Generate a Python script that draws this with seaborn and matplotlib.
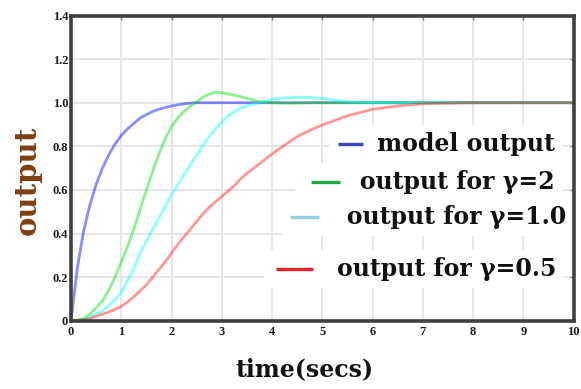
import matplotlib
matplotlib.use("Agg")
import matplotlib.pyplot as plt
import seaborn as sns
import pandas as pd

# step responses sampled over time (seconds)
time = [0, 0.125, 0.25, 0.375, 0.5, 0.625, 0.75, 0.875, 1.0, 1.125, 1.25, 1.375, 1.5,
        1.625, 1.75, 1.875, 2.0, 2.125, 2.25, 2.375, 2.5, 2.625, 2.75, 2.875, 3.0,
        3.125, 3.25, 3.375, 3.5, 3.75, 4.0, 4.25, 4.5, 4.75, 5.0, 5.5, 6.0, 6.5,
        7.0, 7.5, 8.0, 9.0, 10.0]
model_out = [0, 0.24, 0.41, 0.53, 0.625, 0.70, 0.76, 0.81, 0.85, 0.88, 0.905, 0.93, 0.945,
             0.96, 0.97, 0.978, 0.985, 0.99, 0.995, 0.998, 1.0, 1.0, 1.0, 1.0, 1.0,
             1.0, 1.0, 1.0, 1.0, 1.0, 1.0, 1.0, 1.0, 1.0, 1.0, 1.0, 1.0, 1.0,
             1.0, 1.0, 1.0, 1.0, 1.0]
gamma_2 = [0, 0.003, 0.01, 0.03, 0.06, 0.09, 0.14, 0.20, 0.27, 0.34, 0.42, 0.51, 0.60,
           0.685, 0.765, 0.835, 0.89, 0.93, 0.96, 0.985, 1.005, 1.025, 1.04, 1.048, 1.046,
           1.04, 1.035, 1.028, 1.02, 1.005, 1.0, 0.998, 0.998, 1.0, 1.0, 1.0, 1.0, 1.0,
           1.0, 1.0, 1.0, 1.0, 1.0]
gamma_1 = [0, 0.001, 0.005, 0.015, 0.03, 0.045, 0.07, 0.095, 0.13, 0.185, 0.24, 0.31, 0.365,
           0.42, 0.47, 0.525, 0.58, 0.625, 0.67, 0.715, 0.76, 0.805, 0.845, 0.88, 0.91,
           0.94, 0.96, 0.975, 0.985, 1.0, 1.015, 1.022, 1.025, 1.024, 1.02, 1.005, 1.0, 1.0,
           1.0, 1.0, 1.0, 1.0, 1.0]
gamma_05 = [0, 0.002, 0.005, 0.01, 0.02, 0.03, 0.04, 0.052, 0.066, 0.086, 0.11, 0.137, 0.165,
            0.20, 0.235, 0.27, 0.31, 0.35, 0.385, 0.42, 0.455, 0.49, 0.52, 0.545, 0.57,
            0.595, 0.62, 0.65, 0.675, 0.72, 0.765, 0.805, 0.845, 0.873, 0.898, 0.94, 0.97, 0.985,
            0.995, 0.998, 1.0, 1.0, 1.0]

series_names = ["model output", "output for γ=2", "output for γ=1.0", "output for γ=0.5"]
series_values = [model_out, gamma_2, gamma_1, gamma_05]
line_colors = ["#0000ff", "#00e000", "#00ffff", "#ff1a1a"]
key_colors = ["#3c46c8", "#22aa44", "#8fd0e4", "#e8202a"]

x_ticks = [0, 1, 2, 3, 4, 5, 6, 7, 8, 9, 10]
y_ticks = [0, 0.2, 0.4, 0.6, 0.8, 1.0, 1.2, 1.4]
y_tick_labels = ["0", "0.2", "0.4", "0.6", "0.8", "1.0", "1.2", "1.4"]

frames = []
for name, vals in zip(series_names, series_values):
    frames.append(pd.DataFrame({"time": time, "output": vals, "series": name}))
df = pd.concat(frames, ignore_index=True)

sns.set_style("white")
fig = plt.figure(figsize=(5.81, 3.89), dpi=100)
ax = fig.add_axes([0.1222, 0.1755, 0.8650, 0.7846])
ax.set_axisbelow(True)

sns.lineplot(data=df, x="time", y="output", hue="series", hue_order=series_names,
             palette=dict(zip(series_names, line_colors)), linewidth=2.0, alpha=0.45,
             legend=False, errorbar=None, ax=ax, zorder=2)

ax.set_xlim(0, 10)
ax.set_ylim(0, 1.4)
ax.set_xticks(x_ticks)
ax.set_yticks(y_ticks)
ax.set_xticklabels([str(v) for v in x_ticks])
ax.set_yticklabels(y_tick_labels)
ax.grid(True, color="#e6e6e6", linewidth=1.4)

for side in ["left", "right", "top", "bottom"]:
    ax.spines[side].set_visible(True)
    ax.spines[side].set_color("#404040")
    ax.spines[side].set_linewidth(2.6)
ax.tick_params(direction="in", length=3, width=1, color="#808080",
               top=True, right=True, labelsize=9, pad=2)
for lab in ax.get_xticklabels() + ax.get_yticklabels():
    lab.set_fontfamily("Liberation Serif")
    lab.set_fontweight("bold")
    lab.set_color("#1a1a1a")
ax.tick_params(axis="x", pad=4)

ax.set_xlabel("time(secs)", fontsize=17, fontweight="bold", family="DejaVu Serif", color="#111111")
ax.set_ylabel("output", fontsize=21, fontweight="bold", family="DejaVu Serif", color="#7e3e12")
ax.xaxis.set_label_coords(0.464, -0.12)
ax.yaxis.set_label_coords(-0.058, 0.459)

# key: right-aligned entries, each with its own short line sample
key_rows = [
    # (text right edge, key line x0, key line x1, row y, leading pad)
    (0.963, 0.531, 0.581, 0.579, "     "),
    (0.963, 0.4775, 0.535, 0.4545, "       "),
    (0.985, 0.436, 0.493, 0.340, "       "),
    (0.965, 0.408, 0.4815, 0.169, "        "),
]
for (xr, x0, x1, yr, lead), name, kc in zip(key_rows, series_names, key_colors):
    ax.text(xr, yr, lead + name, transform=ax.transAxes, ha="right", va="center",
            fontsize=17, fontweight="bold", family="DejaVu Serif", color="#111111",
            bbox=dict(boxstyle="square,pad=0.3", facecolor="white", edgecolor="none"),
            zorder=1.5)
    ax.plot([x0, x1], [yr, yr], transform=ax.transAxes, color=kc, linewidth=2.4,
            solid_capstyle="butt", zorder=4)

fig.savefig("out.png", dpi=100)
